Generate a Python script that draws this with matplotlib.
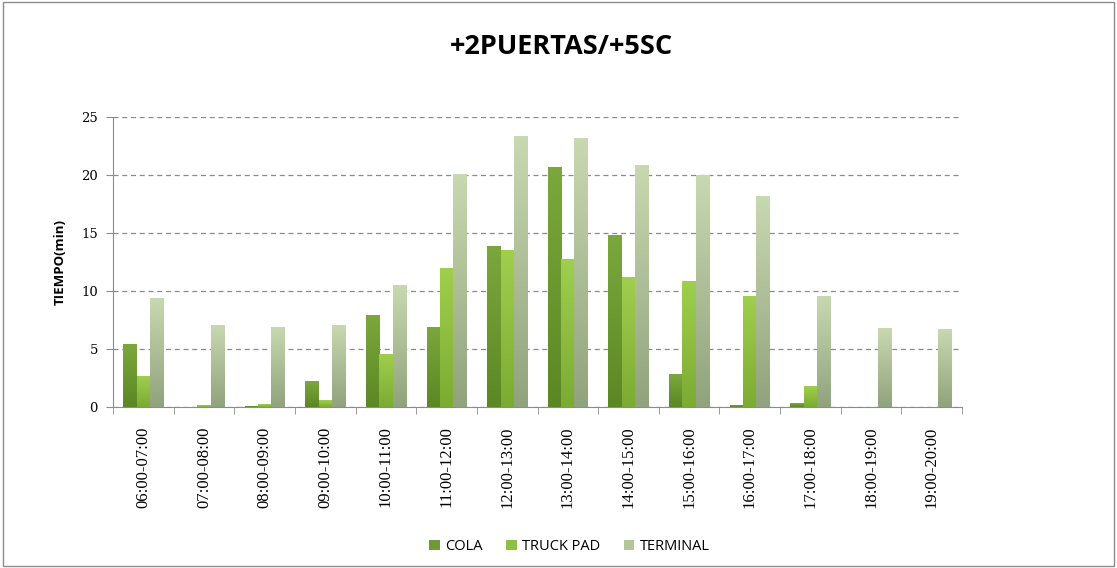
import numpy as np
import matplotlib.pyplot as plt
from matplotlib.colors import LinearSegmentedColormap
from matplotlib.patches import Rectangle, Patch

# hourly slots and waiting time (min) per stage
SLOTS = ["06:00-07:00", "07:00-08:00", "08:00-09:00", "09:00-10:00",
         "10:00-11:00", "11:00-12:00", "12:00-13:00", "13:00-14:00",
         "14:00-15:00", "15:00-16:00", "16:00-17:00", "17:00-18:00",
         "18:00-19:00", "19:00-20:00"]
COLA = [5.4, 0.0, 0.1, 2.2, 7.9, 6.9, 13.9, 20.7, 14.8, 2.8, 0.2, 0.3, 0.0, 0.0]
TRUCK_PAD = [2.7, 0.15, 0.25, 0.6, 4.6, 12.0, 13.5, 12.8, 11.2, 10.9, 9.6, 1.8, 0.0, 0.0]
TERMINAL = [9.4, 7.1, 6.9, 7.1, 10.5, 20.1, 23.4, 23.2, 20.9, 20.0, 18.2, 9.6, 6.8, 6.7]

SERIES = [
    ("COLA", COLA, "#7ba83c", "#5c8724", "#6e9a35"),
    ("TRUCK PAD", TRUCK_PAD, "#a0cf4e", "#7cab33", "#8fbf45"),
    ("TERMINAL", TERMINAL, "#c8d9b1", "#91a37d", "#b4c59b"),
]

fig = plt.figure(figsize=(11.17, 5.68), dpi=100)
fig.patch.set_facecolor("white")
ax = fig.add_axes([0.1012, 0.2835, 0.7600, 0.5105])

x = np.arange(len(SLOTS))
width = 0.22
offsets = [-width, 0.0, width]

# bars, then a vertical gradient clipped to each bar (Excel-style fill)
for (name, vals, top, bottom, _), off in zip(SERIES, offsets):
    bars = ax.bar(x + off, vals, width=width, color=top, linewidth=0, zorder=3)
    cmap = LinearSegmentedColormap.from_list(name, [bottom, top])
    grad = np.linspace(0, 1, 64).reshape(-1, 1)
    for b in bars:
        h = b.get_height()
        if h <= 0:
            continue
        bx, bw = b.get_x(), b.get_width()
        im = ax.imshow(grad, cmap=cmap, origin="lower", aspect="auto",
                       extent=(bx, bx + bw, 0, h), zorder=3.5,
                       interpolation="bilinear")
        im.set_clip_path(b)

ax.set_xlim(-0.5, len(SLOTS) - 0.5)
ax.set_ylim(0, 25)
ax.set_yticks([0, 5, 10, 15, 20, 25])
ax.set_xticks(x)
ax.set_xticklabels(SLOTS, rotation=90, family="Liberation Serif", fontsize=12)
ax.set_xticks(np.arange(-0.5, len(SLOTS)), minor=True)
ax.tick_params(axis="x", which="major", length=0, pad=14)
ax.tick_params(axis="x", which="minor", length=5, color="#8c8c8c", direction="out")
ax.tick_params(axis="y", length=5, color="#8c8c8c", pad=6)
for lab in ax.get_yticklabels():
    lab.set_family("DejaVu Serif")
    lab.set_fontsize(9.5)

ax.grid(axis="y", linestyle=(0, (4, 3)), color="#8a8a8a", linewidth=0.9, zorder=1)
for s in ("top", "right"):
    ax.spines[s].set_visible(False)
for s in ("left", "bottom"):
    ax.spines[s].set_color("#8c8c8c")

ax.set_ylabel("TIEMPO(min)", family="Open Sans", fontweight="bold", fontsize=9.5, labelpad=10)

fig.text(0.503, 0.918, "+2PUERTAS/+5SC", ha="center", va="center",
         family="Open Sans", fontweight="bold", fontsize=19.5)

handles = [Patch(facecolor=leg, edgecolor="none", label=name)
           for name, _, _, _, leg in SERIES]
fig.legend(handles=handles, loc="center", bbox_to_anchor=(0.51, 0.037), ncol=3,
           frameon=False, prop={"family": "Open Sans", "size": 10.5},
           handlelength=0.7, handleheight=0.7, handletextpad=0.4, columnspacing=1.6)

fig.add_artist(Rectangle((0.003, 0.004), 0.994, 0.992, transform=fig.transFigure,
                         fill=False, edgecolor="#8c8c8c", linewidth=1.0))

fig.savefig("out.png", dpi=100, facecolor="white")
